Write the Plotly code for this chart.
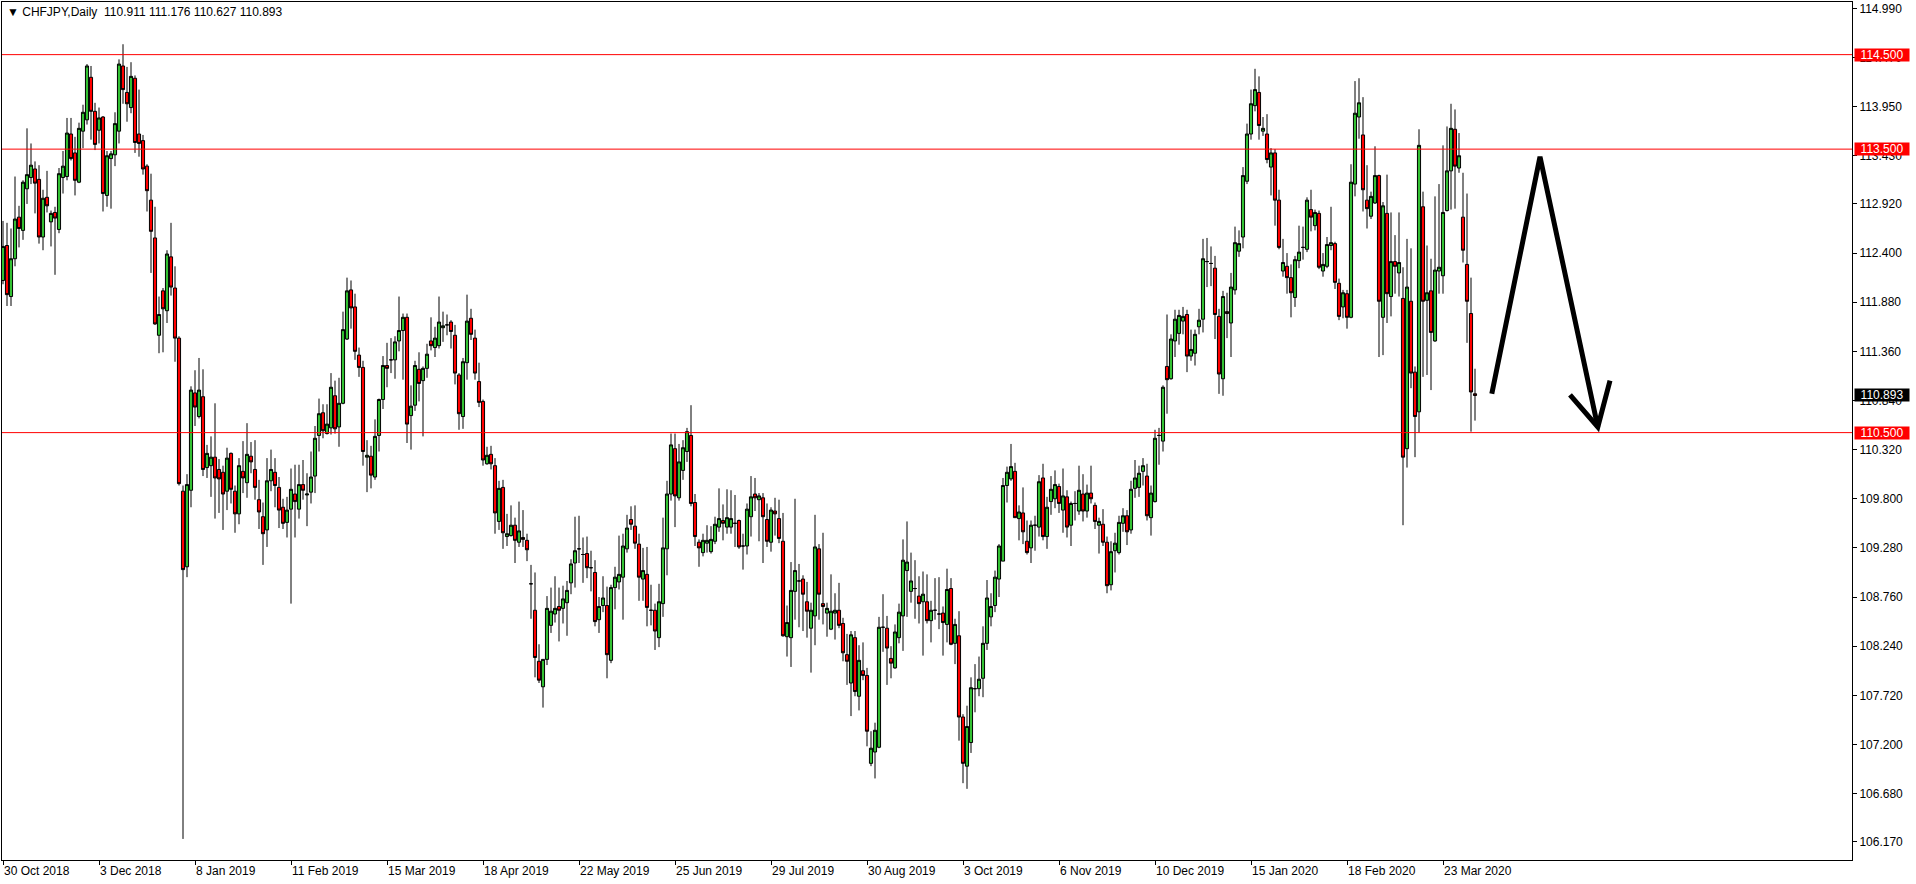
import plotly.graph_objects as go

# ---------------- data ----------------
symbol_header = "CHFJPY,Daily"
last_ohlc = [110.911, 111.176, 110.627, 110.893]

date_labels = ["30 Oct 2018", "3 Dec 2018", "8 Jan 2019", "11 Feb 2019", "15 Mar 2019",
               "18 Apr 2019", "22 May 2019", "25 Jun 2019", "29 Jul 2019", "30 Aug 2019",
               "3 Oct 2019", "6 Nov 2019", "10 Dec 2019", "15 Jan 2020", "18 Feb 2020",
               "23 Mar 2020"]
date_label_bars = [0, 24, 48, 72, 96, 120, 144, 168, 192, 216, 240, 264, 288, 312, 336, 360]

price_ticks = [114.990, 114.470, 113.950, 113.430, 112.920, 112.400, 111.880, 111.360,
               110.840, 110.320, 109.800, 109.280, 108.760, 108.240, 107.720, 107.200,
               106.680, 106.170]

levels = [114.500, 113.500, 110.500]

opens = [
    112.11, 112.48, 111.94, 112.34, 112.78, 112.64, 113.08, 113.20, 113.29, 113.18,
    112.57, 112.99, 112.73, 112.83, 112.65, 113.20, 113.21, 113.66, 113.46, 113.15,
    113.69, 113.81, 114.26, 113.90, 113.70, 113.84, 113.01, 113.40, 113.44, 113.69,
    114.38, 114.10, 113.94, 114.25, 113.66, 113.59, 113.32, 112.96, 112.56, 111.53,
    112.00, 111.79, 112.36, 112.03, 111.50, 109.88, 109.08, 109.89, 110.92, 110.67,
    110.88, 110.13, 110.15, 110.24, 110.11, 110.08, 109.88, 110.28, 109.88, 109.64,
    110.09, 109.97, 110.25, 110.11, 109.79, 109.61, 109.47, 109.99, 110.08, 109.92,
    109.71, 109.55, 109.69, 109.85, 109.69, 109.95, 109.84, 109.87, 110.04, 110.47,
    110.71, 110.49, 110.55, 110.89, 110.56, 110.81, 111.49, 112.01, 111.83, 111.32,
    111.19, 110.24, 110.25, 110.03, 110.47, 110.85, 111.21, 111.27, 111.27, 111.47,
    111.58, 111.72, 110.68, 110.79, 111.17, 111.05, 111.18, 111.47, 111.40, 111.42,
    111.61, 111.64, 111.67, 111.53, 111.11, 110.67, 111.24, 111.71, 111.50, 111.04,
    110.83, 110.17, 110.27, 110.15, 109.56, 109.92, 109.40, 109.41, 109.52, 109.34,
    109.39, 109.36, 108.90, 108.62, 108.08, 107.81, 108.10, 108.46, 108.58, 108.66,
    108.64, 108.70, 108.91, 109.12, 109.27, 109.21, 109.22, 109.07, 109.02, 108.52,
    108.67, 108.67, 108.09, 108.86, 108.92, 108.97, 109.27, 109.58, 109.51, 109.32,
    108.95, 109.00, 108.62, 108.62, 108.33, 108.69, 109.27, 109.85, 110.33, 109.81,
    110.10, 110.30, 110.47, 109.76, 109.34, 109.23, 109.33, 109.24, 109.35, 109.50,
    109.57, 109.50, 109.50, 109.54, 109.57, 109.30, 109.30, 109.61, 109.85, 109.79,
    109.81, 109.58, 109.34, 109.67, 109.59, 109.35, 108.34, 108.33, 108.82, 108.93,
    108.95, 108.71, 108.43, 108.56, 109.27, 108.69, 108.59, 108.42, 108.59, 108.62,
    108.48, 108.15, 107.85, 108.33, 107.71, 107.98, 107.93, 107.00, 107.12, 107.17,
    108.44, 108.43, 108.11, 108.01, 108.33, 108.56, 109.04, 108.82, 108.85, 108.77,
    108.71, 108.71, 108.51, 108.62, 108.58, 108.59, 108.47, 108.85, 108.27, 108.35,
    107.49, 106.97, 107.22, 107.79, 107.79, 107.90, 108.27, 108.55, 108.67, 108.95,
    109.14, 109.94, 110.01, 110.09, 109.59, 109.65, 109.35, 109.28, 109.52, 109.50,
    110.02, 109.40, 109.77, 109.80, 109.93, 109.68, 109.82, 109.52, 109.75, 109.67,
    109.85, 109.67, 109.86, 109.73, 109.52, 109.53, 109.34, 108.89, 109.25, 109.23,
    109.54, 109.62, 109.47, 109.91, 109.92, 110.09, 110.04, 109.60, 109.77, 110.47,
    110.41, 111.20, 111.07, 111.47, 111.55, 111.68, 111.75, 111.31, 111.34, 111.62,
    111.70, 112.31, 112.29, 112.24, 111.73, 111.07, 111.78, 111.66, 112.01, 112.42,
    112.57, 113.16, 113.66, 113.96, 114.10, 113.69, 113.66, 113.31, 113.46, 112.96,
    112.21, 112.26, 112.14, 111.93, 112.32, 112.46, 112.44, 112.86, 112.69, 112.82,
    112.21, 112.26, 112.48, 112.50, 112.08, 111.83, 111.97, 111.72, 113.13, 113.84,
    113.65, 112.96, 112.79, 112.93, 113.22, 111.72, 112.82, 111.94, 112.31, 112.19,
    111.92, 110.33, 111.89, 111.14, 110.72, 112.89, 111.90, 112.00, 111.47, 112.21,
    112.16, 112.85, 113.27, 113.71, 113.30, 112.78, 112.28, 111.76, 110.911,
]

highs = [
    112.74, 112.72, 112.66, 113.21, 112.90, 113.17, 113.72, 113.56, 113.37, 113.33,
    113.07, 113.27, 112.85, 112.89, 113.30, 113.48, 113.83, 113.83, 113.63, 113.78,
    113.97, 114.40, 114.38, 113.99, 113.94, 113.85, 113.48, 113.48, 113.89, 114.45,
    114.61, 114.37, 114.42, 114.28, 114.13, 113.65, 113.34, 113.24, 112.89, 111.94,
    112.03, 112.43, 112.72, 112.26, 111.52, 109.94, 110.06, 110.99, 111.16, 111.29,
    111.17, 110.37, 110.46, 110.81, 110.22, 110.15, 110.34, 110.29, 109.94, 110.23,
    110.41, 110.60, 110.40, 110.42, 110.00, 109.76, 110.23, 110.32, 110.23, 110.03,
    109.80, 109.82, 110.12, 110.16, 110.16, 110.21, 110.07, 110.30, 110.57, 110.86,
    110.80, 110.80, 111.13, 111.05, 111.08, 111.78, 112.14, 112.11, 111.97, 111.40,
    111.26, 110.42, 110.36, 110.64, 110.86, 111.31, 111.45, 111.50, 111.52, 111.94,
    111.76, 111.76, 111.00, 111.26, 111.35, 111.20, 111.44, 111.72, 111.62, 111.94,
    111.78, 111.75, 111.69, 111.64, 111.13, 111.29, 111.96, 111.81, 111.59, 111.24,
    110.85, 110.35, 110.36, 110.23, 109.99, 110.00, 109.64, 109.73, 109.60, 109.77,
    109.68, 109.43, 109.10, 109.02, 108.26, 108.10, 108.77, 108.86, 108.98, 108.86,
    108.88, 108.93, 109.16, 109.61, 109.62, 109.39, 109.40, 109.25, 109.15, 108.76,
    108.98, 108.87, 108.89, 109.08, 109.41, 109.43, 109.63, 109.72, 109.73, 109.43,
    109.28, 109.29, 108.89, 108.69, 108.90, 109.60, 109.99, 110.49, 110.49, 110.38,
    110.42, 110.55, 110.79, 109.85, 109.37, 109.43, 109.52, 109.51, 109.61, 109.91,
    109.74, 109.90, 109.89, 109.84, 109.58, 109.43, 109.75, 110.04, 110.02, 109.86,
    109.86, 109.75, 109.71, 109.81, 109.79, 109.65, 108.67, 109.13, 109.80, 109.11,
    108.99, 108.92, 108.70, 109.63, 109.32, 109.44, 108.70, 109.00, 108.80, 108.91,
    108.54, 108.37, 108.40, 108.40, 108.25, 108.28, 108.01, 107.34, 107.43, 108.55,
    108.79, 108.56, 108.24, 108.47, 108.69, 109.37, 109.56, 109.23, 109.15, 108.98,
    109.03, 109.00, 108.72, 108.96, 108.97, 108.66, 109.06, 108.96, 108.53, 108.61,
    107.52, 107.61, 107.91, 108.05, 108.13, 108.45, 108.94, 108.80, 109.04, 109.32,
    110.02, 110.14, 110.38, 110.18, 109.73, 109.92, 109.57, 109.57, 109.62, 110.05,
    110.17, 109.82, 110.04, 110.10, 109.96, 110.12, 109.89, 109.77, 109.88, 110.15,
    110.06, 109.95, 110.15, 109.76, 109.60, 109.69, 109.40, 109.35, 109.44, 109.62,
    109.70, 109.68, 109.99, 110.21, 110.15, 110.23, 110.17, 109.94, 110.53, 110.55,
    111.00, 111.75, 111.54, 111.80, 111.80, 111.83, 111.80, 111.59, 111.59, 111.81,
    112.55, 112.56, 112.47, 112.37, 111.81, 112.00, 111.98, 112.19, 112.68, 112.64,
    113.31, 113.77, 114.13, 114.35, 114.27, 113.84, 113.87, 113.51, 113.50, 113.07,
    112.55, 112.40, 112.28, 112.37, 112.69, 112.68, 112.99, 113.07, 112.86, 112.85,
    112.40, 112.57, 112.89, 112.52, 112.13, 112.01, 112.01, 113.34, 114.22, 114.25,
    114.05, 113.33, 113.05, 113.53, 113.23, 112.94, 113.23, 112.83, 112.59, 112.83,
    112.25, 112.55, 112.45, 111.20, 113.71, 113.05, 112.48, 112.34, 113.00, 113.13,
    113.54, 113.74, 113.98, 113.92, 113.67, 113.25, 113.03, 112.14, 111.176,
]

lows = [
    112.07, 111.84, 111.84, 112.26, 112.46, 112.54, 112.92, 113.13, 112.82, 112.50,
    112.43, 112.83, 112.47, 112.17, 112.61, 113.03, 113.17, 113.38, 113.01, 113.14,
    113.51, 113.76, 113.60, 113.49, 113.56, 112.84, 112.89, 112.87, 113.32, 113.56,
    113.98, 113.79, 113.88, 113.46, 113.42, 113.23, 112.84, 112.19, 111.64, 111.34,
    111.35, 111.66, 111.95, 111.25, 109.94, 106.20, 108.97, 109.71, 110.57, 110.65,
    110.04, 110.02, 109.82, 109.59, 109.65, 109.47, 109.68, 109.75, 109.44, 109.53,
    109.86, 109.81, 110.07, 109.79, 109.48, 109.10, 109.29, 109.88, 109.71, 109.49,
    109.48, 109.39, 108.69, 109.39, 109.59, 109.79, 109.51, 109.75, 109.86, 110.30,
    110.44, 110.48, 110.48, 110.49, 110.35, 110.80, 111.48, 111.60, 111.27, 111.09,
    110.15, 109.87, 109.91, 110.00, 110.30, 110.75, 110.98, 111.13, 111.07, 111.36,
    111.06, 110.39, 110.32, 110.73, 110.83, 110.46, 111.08, 111.37, 111.30, 111.39,
    111.46, 111.53, 111.39, 111.01, 110.53, 110.54, 111.06, 111.48, 111.06, 110.77,
    110.15, 110.16, 110.11, 109.43, 109.47, 109.27, 109.30, 109.40, 109.12, 109.29,
    109.29, 109.14, 108.53, 107.91, 107.85, 107.59, 108.04, 108.38, 108.49, 108.29,
    108.48, 108.35, 108.79, 108.86, 109.12, 108.91, 108.96, 108.82, 108.45, 108.38,
    108.60, 107.90, 108.06, 108.63, 108.84, 108.52, 109.23, 109.47, 109.27, 108.72,
    108.72, 108.45, 108.46, 108.20, 108.23, 108.55, 108.99, 109.78, 109.50, 109.78,
    110.00, 110.19, 109.72, 109.30, 109.08, 109.19, 109.23, 109.22, 109.32, 109.45,
    109.36, 109.43, 109.43, 109.29, 109.27, 109.05, 109.21, 109.40, 109.67, 109.35,
    109.12, 109.29, 109.24, 109.41, 109.33, 108.34, 108.13, 108.02, 108.52, 108.44,
    108.40, 108.33, 107.96, 108.25, 108.52, 108.47, 108.34, 108.41, 108.31, 108.43,
    108.08, 107.83, 107.50, 107.71, 107.56, 107.88, 107.18, 106.97, 106.84, 107.16,
    108.18, 107.83, 107.90, 108.00, 108.27, 108.19, 108.55, 108.70, 108.53, 108.48,
    108.14, 108.48, 108.28, 108.52, 108.42, 108.14, 108.28, 108.25, 108.05, 107.24,
    106.79, 106.73, 107.11, 107.54, 107.71, 107.70, 108.20, 108.45, 108.60, 108.76,
    109.14, 109.76, 109.99, 109.60, 109.36, 109.32, 109.21, 109.12, 109.25, 109.40,
    109.36, 109.27, 109.63, 109.70, 109.65, 109.44, 109.39, 109.30, 109.57, 109.63,
    109.56, 109.60, 109.75, 109.48, 109.22, 109.30, 108.80, 108.83, 109.02, 109.21,
    109.45, 109.31, 109.43, 109.81, 109.82, 109.94, 109.57, 109.41, 109.76, 110.16,
    110.30, 110.70, 111.06, 111.30, 111.43, 111.54, 111.14, 111.26, 111.21, 111.54,
    111.56, 112.04, 112.05, 111.49, 110.91, 110.89, 111.50, 111.30, 111.96, 112.36,
    112.45, 113.13, 113.60, 113.90, 113.60, 113.64, 113.35, 113.01, 112.69, 112.44,
    112.15, 111.97, 111.72, 111.83, 112.24, 112.33, 112.41, 112.63, 112.64, 112.23,
    112.15, 112.24, 112.43, 112.02, 111.69, 111.71, 111.60, 111.71, 113.00, 113.61,
    112.84, 112.66, 112.76, 112.92, 111.30, 111.32, 111.66, 111.73, 111.97, 111.94,
    109.52, 110.13, 110.97, 110.24, 110.50, 111.09, 111.11, 110.95, 111.46, 111.97,
    111.97, 112.84, 112.86, 112.87, 113.25, 112.30, 111.45, 110.51, 110.627,
]

closes = [
    112.47, 111.96, 112.34, 112.76, 112.66, 113.15, 113.23, 113.33, 113.14, 112.57,
    112.98, 112.90, 112.82, 112.77, 113.24, 113.32, 113.67, 113.40, 113.17, 113.72,
    113.89, 114.38, 113.90, 113.55, 113.83, 113.03, 113.43, 113.45, 113.77, 114.40,
    114.13, 113.98, 114.27, 113.57, 113.56, 113.29, 113.06, 112.63, 111.65, 111.75,
    111.81, 112.39, 112.04, 111.50, 109.96, 109.05, 109.95, 110.95, 110.77, 110.95,
    110.11, 110.28, 110.24, 110.02, 110.01, 109.85, 110.23, 109.90, 109.64, 110.15,
    110.02, 110.27, 110.19, 109.92, 109.66, 109.43, 109.99, 110.11, 109.94, 109.68,
    109.54, 109.68, 109.90, 109.77, 109.95, 109.89, 109.85, 110.03, 110.44, 110.70,
    110.52, 110.59, 110.98, 110.54, 110.81, 111.59, 112.00, 111.82, 111.36, 111.19,
    110.30, 110.26, 110.05, 110.46, 110.85, 111.21, 111.18, 111.27, 111.46, 111.58,
    111.72, 110.59, 110.78, 111.21, 111.02, 111.18, 111.33, 111.42, 111.50, 111.67,
    111.63, 111.64, 111.57, 111.13, 110.70, 111.25, 111.68, 111.54, 111.13, 110.82,
    110.21, 110.26, 110.17, 109.65, 109.91, 109.44, 109.43, 109.52, 109.36, 109.46,
    109.37, 109.26, 108.90, 108.12, 107.88, 108.10, 108.64, 108.61, 108.64, 108.62,
    108.74, 108.83, 109.11, 109.25, 109.27, 109.21, 109.07, 109.07, 108.50, 108.66,
    108.75, 108.15, 108.86, 108.97, 109.00, 109.30, 109.49, 109.53, 109.33, 108.97,
    109.04, 108.65, 108.62, 108.40, 108.71, 109.28, 109.85, 110.37, 109.83, 110.19,
    110.34, 110.51, 109.75, 109.40, 109.28, 109.36, 109.36, 109.37, 109.53, 109.59,
    109.54, 109.60, 109.59, 109.54, 109.29, 109.30, 109.69, 109.82, 109.81, 109.83,
    109.61, 109.35, 109.68, 109.64, 109.38, 108.35, 108.49, 108.83, 109.04, 108.93,
    108.79, 108.61, 108.62, 109.29, 108.79, 108.66, 108.64, 108.61, 108.62, 108.46,
    108.17, 108.08, 108.36, 107.76, 108.09, 107.93, 107.34, 107.16, 107.35, 108.44,
    108.44, 108.22, 108.06, 108.39, 108.60, 109.15, 109.13, 108.93, 108.85, 108.69,
    108.79, 108.51, 108.62, 108.62, 108.58, 108.49, 108.84, 108.26, 108.47, 107.49,
    107.00, 107.39, 107.80, 107.79, 107.89, 108.27, 108.75, 108.66, 108.97, 109.30,
    109.94, 110.08, 110.14, 109.60, 109.66, 109.45, 109.23, 109.52, 109.52, 109.98,
    109.40, 109.71, 109.90, 109.95, 109.75, 109.83, 109.50, 109.75, 109.75, 109.89,
    109.67, 109.86, 109.80, 109.56, 109.56, 109.34, 108.88, 109.24, 109.33, 109.55,
    109.62, 109.45, 109.90, 110.02, 110.07, 110.15, 109.62, 109.86, 110.44, 110.47,
    110.98, 111.06, 111.49, 111.70, 111.74, 111.73, 111.31, 111.38, 111.54, 111.69,
    112.34, 112.31, 112.29, 111.75, 111.12, 111.94, 111.76, 112.04, 112.51, 112.50,
    113.22, 113.66, 113.98, 114.13, 113.75, 113.72, 113.39, 113.46, 112.96, 112.46,
    112.30, 112.14, 111.98, 112.33, 112.41, 112.46, 112.96, 112.78, 112.83, 112.25,
    112.28, 112.49, 112.51, 112.09, 111.73, 111.98, 111.72, 113.15, 113.88, 113.99,
    113.07, 112.87, 113.00, 113.22, 111.89, 112.90, 111.97, 112.31, 112.26, 112.30,
    110.24, 112.04, 111.13, 110.67, 113.54, 111.89, 111.98, 111.56, 112.22, 112.25,
    112.83, 113.27, 113.72, 113.32, 113.43, 112.43, 111.89, 110.93, 110.893,
]

# hand-drawn arrow (bar index, price)
arrow_bar = [372.2, 384.25, 398.7]
arrow_price = [110.91, 113.42, 110.56]
arrow_head_bar = [391.75, 398.7, 401.75]
arrow_head_price = [110.90, 110.56, 111.05]

# ---------------- figure ----------------
n = len(closes)
assert len(opens) == len(highs) == len(lows) == n
bars = list(range(n))

FONT = "Liberation Sans, Arial, sans-serif"
GREEN = "#33C133"
RED = "#FF0000"

fig = go.Figure()
fig.add_trace(go.Candlestick(
    x=bars, open=opens, high=highs, low=lows, close=closes,
    increasing=dict(fillcolor=GREEN, line=dict(color="black", width=1)),
    decreasing=dict(fillcolor=RED, line=dict(color="black", width=1)),
    whiskerwidth=0, hoverinfo="skip", showlegend=False,
))

shapes = []
for lv in levels:
    shapes.append(dict(type="line", xref="paper", x0=0, x1=1, yref="y", y0=lv, y1=lv,
                       line=dict(color="#FF0000", width=1), layer="above"))

path = "M " + " L ".join(f"{b},{p}" for b, p in zip(arrow_bar, arrow_price))
shapes.append(dict(type="path", xref="x", yref="y", path=path,
                   line=dict(color="black", width=5), layer="above"))
path2 = "M " + " L ".join(f"{b},{p}" for b, p in zip(arrow_head_bar, arrow_head_price))
shapes.append(dict(type="path", xref="x", yref="y", path=path2,
                   line=dict(color="black", width=5), layer="above"))

annotations = []
hdr = "\u25BC\u00a0" + symbol_header + "\u00a0\u00a0" + "\u00a0".join(f"{v:.3f}" for v in last_ohlc)
annotations.append(dict(xref="paper", yref="paper", x=0, y=1, xanchor="left", yanchor="middle",
                        xshift=3, yshift=-10, text=hdr, showarrow=False,
                        font=dict(family=FONT, size=12, color="black")))
for lv in levels:
    annotations.append(dict(xref="paper", yref="y", x=1, y=lv, xanchor="left", yanchor="middle",
                            xshift=2, text=f"{lv:.3f}", showarrow=False, bgcolor="#FF0000",
                            width=52, height=10, borderpad=1, align="center",
                            font=dict(family=FONT, size=12, color="white")))
annotations.append(dict(xref="paper", yref="y", x=1, y=last_ohlc[3], xanchor="left", yanchor="middle",
                        xshift=2, text=f"{last_ohlc[3]:.3f}", showarrow=False, bgcolor="black",
                        width=52, height=10, borderpad=1, align="center",
                        font=dict(family=FONT, size=12, color="white")))

fig.update_layout(
    width=1916, height=884,
    margin=dict(l=2, r=64, t=2, b=24, pad=0),
    paper_bgcolor="white", plot_bgcolor="white",
    font=dict(family=FONT, size=12, color="black"),
    boxgap=0.22, boxgroupgap=0,
    shapes=shapes, annotations=annotations,
    xaxis=dict(range=[-0.25, 462.25], tickmode="array", tickvals=date_label_bars,
               ticktext=date_labels, ticks="outside", ticklen=4, tickcolor="black",
               ticklabelposition="outside right", showgrid=False, zeroline=False,
               showline=True, mirror=True, linecolor="black", linewidth=1,
               rangeslider=dict(visible=False), fixedrange=True,
               tickfont=dict(family=FONT, size=12, color="black")),
    yaxis=dict(side="right", range=[105.977, 115.057], tickmode="array", tickvals=price_ticks,
               ticktext=[f"{t:.3f}" for t in price_ticks], ticks="outside", ticklen=4,
               tickcolor="black", showgrid=False, zeroline=False, showline=True, mirror=True,
               linecolor="black", linewidth=1, fixedrange=True,
               tickfont=dict(family=FONT, size=12, color="black")),
)

fig.write_html("out.html", config={"displayModeBar": False},
               post_script="document.body.style.margin='0';document.body.style.overflow='hidden';")
